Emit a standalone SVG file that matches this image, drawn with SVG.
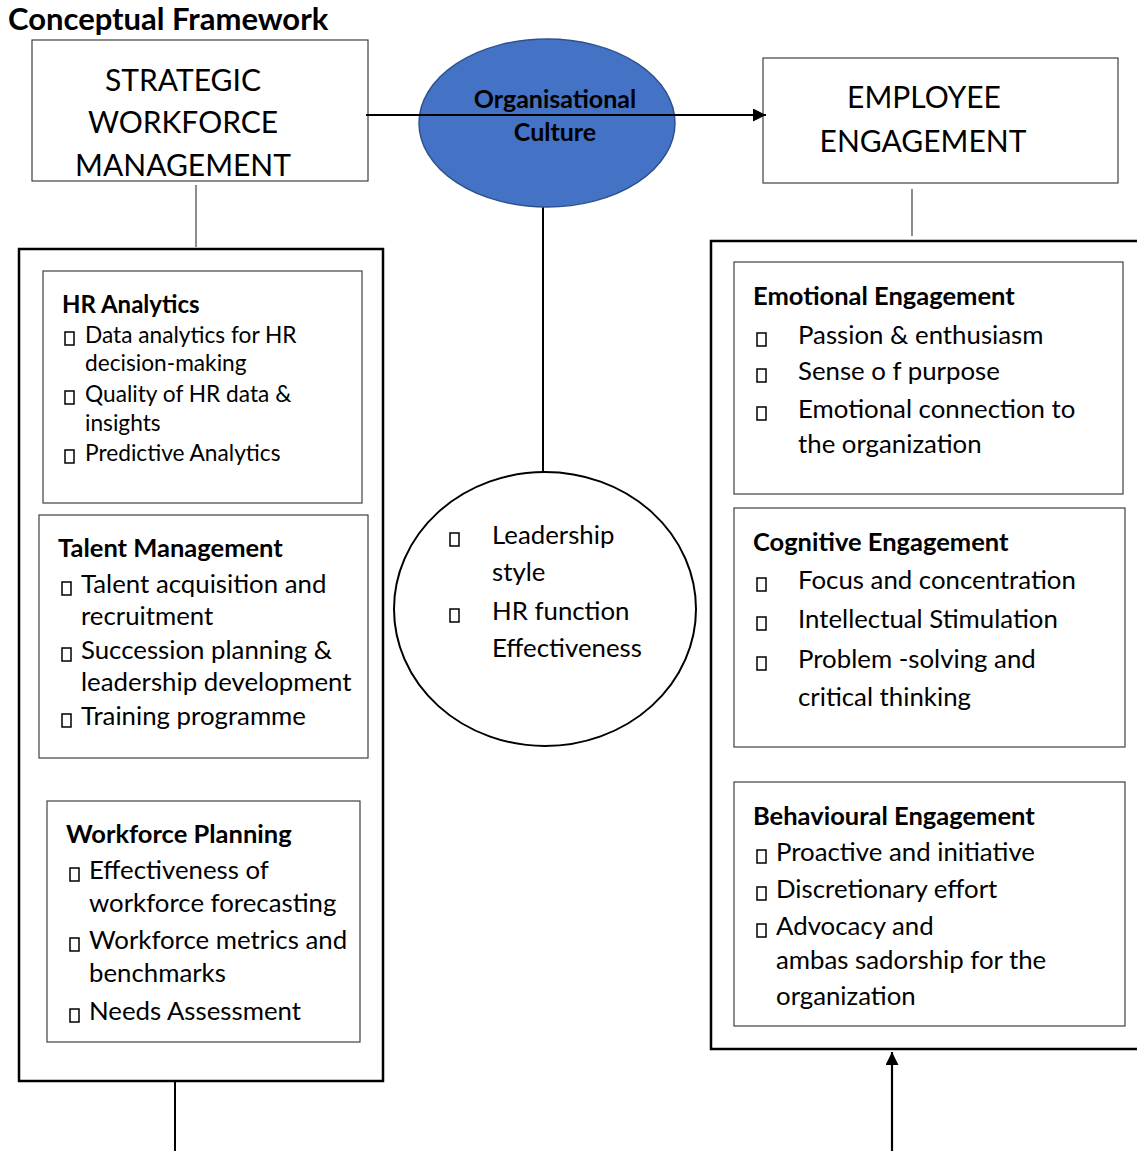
<svg xmlns="http://www.w3.org/2000/svg" width="1137" height="1151" viewBox="0 0 1137 1151">
  <style>
    text { font-family: Lato, "Liberation Sans", sans-serif; fill: #000; }
    .title { font-size: 31px; font-weight: bold; }
    .big { font-size: 30px; }
    .oc { font-size: 25px; font-weight: bold; }
    .h { font-size: 25.5px; font-weight: bold; }
    .h2 { font-size: 24px; font-weight: bold; }
    .t { font-size: 25.8px; }
    .ts { font-size: 22.7px; }
    .thin { fill: #fff; stroke: #404040; stroke-width: 1.2; }
    .outer { fill: none; stroke: #000; stroke-width: 2.5; }
    .ln { stroke: #000; stroke-width: 2; fill: none; }
    .ln-g { stroke: #404040; stroke-width: 1.2; fill: none; }
    .bul { fill: none; stroke: #000; stroke-width: 1.5; }
  </style>
  <defs>
    <marker id="arrow" viewBox="0 0 10 10" refX="10" refY="5" markerWidth="14" markerHeight="13" markerUnits="userSpaceOnUse" orient="auto">
      <path d="M0,0 L10,5 L0,10 z" fill="#000"/>
    </marker>
    <rect id="b" x="0" y="-14" width="9" height="13" class="bul"/>
  </defs>

  <rect width="1137" height="1151" fill="#fff"/>

  <text class="title" x="8" y="30">Conceptual Framework</text>

  <!-- outer containers -->
  <g id="swm-dimensions">
    <rect class="outer" x="19" y="249" width="364" height="832"/>
  </g>
  <g id="ee-dimensions">
    <path class="outer" d="M1137,241 H711 V1049 H1137"/>
  </g>

  <!-- connectors -->
  <g id="connectors">
    <line class="ln-g" x1="196" y1="185" x2="196" y2="247"/>
    <line class="ln-g" x1="912" y1="189" x2="912" y2="236"/>
    <line class="ln" x1="543" y1="207" x2="543" y2="473"/>
    <line class="ln" x1="175" y1="1081" x2="175" y2="1151"/>
    <line class="ln" x1="892" y1="1151" x2="892" y2="1052" style="stroke-width:2.2" marker-end="url(#arrow)"/>
  </g>

  <g id="strategic-workforce-management">
    <rect class="thin" x="32" y="40" width="336" height="141"/>
    <text class="big" x="183" y="91" text-anchor="middle">STRATEGIC</text>
    <text class="big" x="183" y="133" text-anchor="middle">WORKFORCE</text>
    <text class="big" x="183" y="176" text-anchor="middle">MANAGEMENT</text>
  </g>

  <g id="organisational-culture">
    <ellipse cx="547" cy="123" rx="128" ry="84" fill="#4472C4" stroke="#2F528F" stroke-width="1.5"/>
    <text class="oc" x="555" y="108" text-anchor="middle">Organisational</text>
    <text class="oc" x="555" y="141" text-anchor="middle">Culture</text>
  </g>

  <g id="employee-engagement">
    <rect class="thin" x="763" y="58" width="355" height="125"/>
    <text class="big" x="924" y="108" text-anchor="middle">EMPLOYEE</text>
    <text class="big" x="923" y="152" text-anchor="middle">ENGAGEMENT</text>
  </g>

  <!-- main arrow across the culture ellipse -->
  <g id="connector-main">
    <line class="ln" x1="366" y1="115" x2="766" y2="115" marker-end="url(#arrow)"/>
  </g>

  <g id="hr-analytics">
    <rect class="thin" x="43" y="271" width="319" height="232"/>
    <text class="h2" x="62" y="313">HR Analytics</text>
    <use href="#b" x="65" y="346"/>
    <text class="ts" x="85" y="343">Data analytics for HR</text>
    <text class="ts" x="85" y="371">decision-making</text>
    <use href="#b" x="65" y="405"/>
    <text class="ts" x="85" y="402">Quality of HR data &amp;</text>
    <text class="ts" x="85" y="431">insights</text>
    <use href="#b" x="65" y="464"/>
    <text class="ts" x="85" y="461">Predictive Analytics</text>
  </g>

  <g id="talent-management">
    <rect class="thin" x="39" y="515" width="329" height="243"/>
    <text class="h" x="58" y="557">Talent Management</text>
    <use href="#b" x="62" y="596"/>
    <text class="t" x="81" y="593">Talent acquisition and</text>
    <text class="t" x="81" y="625">recruitment</text>
    <use href="#b" x="62" y="662"/>
    <text class="t" x="81" y="659">Succession planning &amp;</text>
    <text class="t" x="81" y="691">leadership development</text>
    <use href="#b" x="62" y="728"/>
    <text class="t" x="81" y="725">Training programme</text>
  </g>

  <g id="workforce-planning">
    <rect class="thin" x="47" y="801" width="313" height="241"/>
    <text class="h" x="66" y="843">Workforce Planning</text>
    <use href="#b" x="70" y="882"/>
    <text class="t" x="89" y="879">Effectiveness of</text>
    <text class="t" x="89" y="912">workforce forecasting</text>
    <use href="#b" x="70" y="952"/>
    <text class="t" x="89" y="949">Workforce metrics and</text>
    <text class="t" x="89" y="982">benchmarks</text>
    <use href="#b" x="70" y="1023"/>
    <text class="t" x="89" y="1020">Needs Assessment</text>
  </g>

  <g id="moderators">
    <ellipse cx="545" cy="609" rx="151" ry="137" fill="#fff" stroke="#000" stroke-width="2"/>
    <use href="#b" x="450" y="547"/>
    <text class="t" x="492" y="544">Leadership</text>
    <text class="t" x="492" y="581">style</text>
    <use href="#b" x="450" y="623"/>
    <text class="t" x="492" y="620">HR function</text>
    <text class="t" x="492" y="657">Effectiveness</text>
  </g>

  <g id="emotional-engagement">
    <rect class="thin" x="734" y="262" width="389" height="232"/>
    <text class="h" x="753" y="305">Emotional Engagement</text>
    <use href="#b" x="757" y="347"/>
    <text class="t" x="798" y="344">Passion &amp; enthusiasm</text>
    <use href="#b" x="757" y="383"/>
    <text class="t" x="798" y="380">Sense o f purpose</text>
    <use href="#b" x="757" y="421"/>
    <text class="t" x="798" y="418">Emotional connection to</text>
    <text class="t" x="798" y="453">the organization</text>
  </g>

  <g id="cognitive-engagement">
    <rect class="thin" x="734" y="508" width="391" height="239"/>
    <text class="h" x="753" y="551">Cognitive Engagement</text>
    <use href="#b" x="757" y="592"/>
    <text class="t" x="798" y="589">Focus and concentration</text>
    <use href="#b" x="757" y="631"/>
    <text class="t" x="798" y="628">Intellectual Stimulation</text>
    <use href="#b" x="757" y="671"/>
    <text class="t" x="798" y="668">Problem -solving and</text>
    <text class="t" x="798" y="706">critical thinking</text>
  </g>

  <g id="behavioural-engagement">
    <rect class="thin" x="734" y="782" width="391" height="244"/>
    <text class="h" x="753" y="825">Behavioural Engagement</text>
    <use href="#b" x="757" y="864"/>
    <text class="t" x="776" y="861">Proactive and initiative</text>
    <use href="#b" x="757" y="901"/>
    <text class="t" x="776" y="898">Discretionary effort</text>
    <use href="#b" x="757" y="938"/>
    <text class="t" x="776" y="935">Advocacy and</text>
    <text class="t" x="776" y="969">ambas sadorship for the</text>
    <text class="t" x="776" y="1005">organization</text>
  </g>
</svg>
